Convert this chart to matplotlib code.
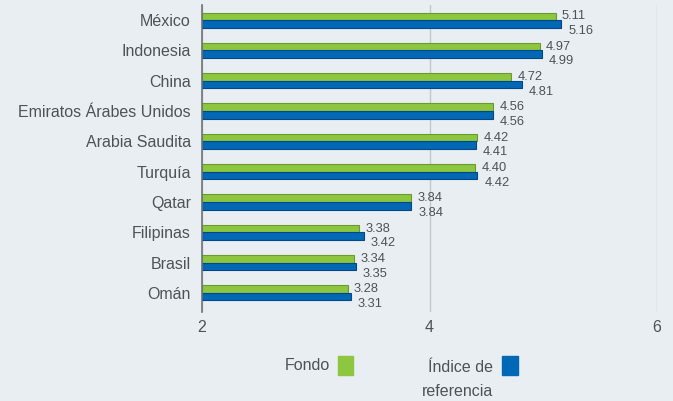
import matplotlib.pyplot as plt
import numpy as np
from matplotlib.patches import Rectangle

plt.rcParams['font.family'] = ['Liberation Sans', 'DejaVu Sans']

countries = ['México', 'Indonesia', 'China', 'Emiratos Árabes Unidos', 'Arabia Saudita',
             'Turquía', 'Qatar', 'Filipinas', 'Brasil', 'Omán']
fondo = [5.11, 4.97, 4.72, 4.56, 4.42, 4.40, 3.84, 3.38, 3.34, 3.28]
indice = [5.16, 4.99, 4.81, 4.56, 4.41, 4.42, 3.84, 3.42, 3.35, 3.31]
xticks = [2, 4, 6]

bg = '#e9eef2'
green = '#8dc63f'
blue = '#0068b5'
txt = '#4d5358'

fig = plt.figure(figsize=(6.73, 4.01), dpi=100, facecolor=bg)
ax = fig.add_axes([202/673, 1-312/401, 455/673, 307/401], facecolor=bg)

y = np.arange(len(countries))
h = 0.25
ax.barh(y - h/2, np.array(fondo) - 2, left=2, height=h, color=green,
        edgecolor='#6b9a30', linewidth=0.8, zorder=3)
ax.barh(y + h/2, np.array(indice) - 2, left=2, height=h, color=blue,
        edgecolor='#00488a', linewidth=0.8, zorder=3)

for i in range(len(countries)):
    ax.annotate(f'{fondo[i]:.2f}', (fondo[i], y[i] - h/2), xytext=(4.5, 0),
                textcoords='offset points', va='center', ha='left', fontsize=9.3, color=txt)
    ax.annotate(f'{indice[i]:.2f}', (indice[i], y[i] + h/2), xytext=(5, -5.2),
                textcoords='offset points', va='center', ha='left', fontsize=9.3, color=txt)

ax.set_xlim(2, 6)
ax.set_ylim(9.63, -0.5)
ax.set_xticks(xticks)
ax.set_xticklabels([str(t) for t in xticks])
ax.set_yticks(y)
ax.set_yticklabels(countries)
ax.tick_params(axis='both', length=0, labelsize=11.5, colors=txt)
ax.tick_params(axis='y', pad=8)
ax.tick_params(axis='x', pad=6)
ax.grid(axis='x', color='#c4c8cc', linewidth=1, zorder=0)
for s in ['top', 'right', 'bottom']:
    ax.spines[s].set_visible(False)
ax.spines['left'].set_color('#6d7378')
ax.spines['left'].set_linewidth(1.2)
ax.spines['left'].set_zorder(4)

# legend drawn by hand
fig.text(330/673, 1-366/401, 'Fondo', ha='right', va='center', fontsize=11.5, color=txt)
fig.patches.append(Rectangle((338/673, 1-375/401), 15/673, 19/401, color=green,
                             transform=fig.transFigure, figure=fig))
fig.text(493/673, 1-380/401, 'Índice de\nreferencia', ha='right', va='center',
         multialignment='right', fontsize=11.5, color=txt, linespacing=1.75)
fig.patches.append(Rectangle((502/673, 1-375/401), 16/673, 19/401, color=blue,
                             transform=fig.transFigure, figure=fig))

fig.savefig('out.png', dpi=100, facecolor=bg)
